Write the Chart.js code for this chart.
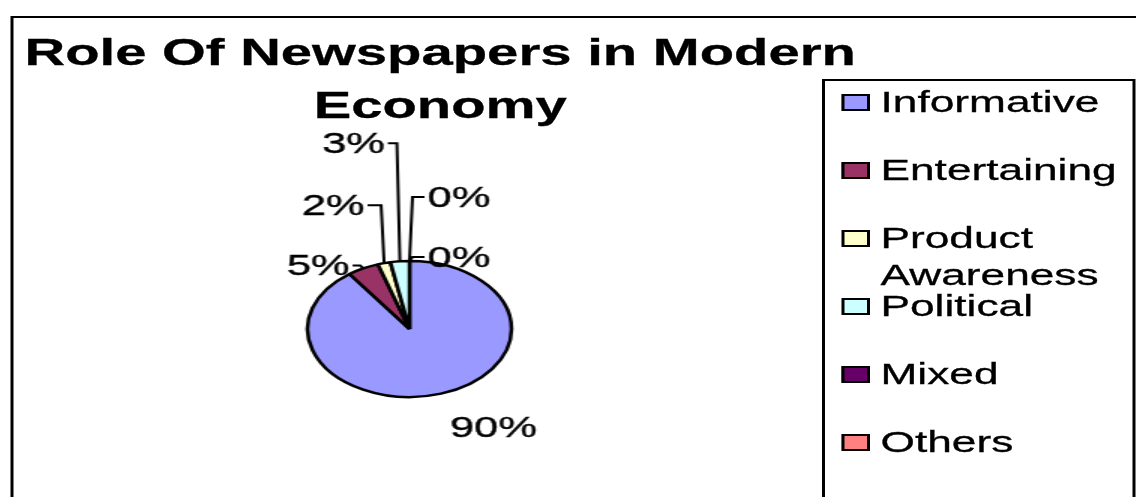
<!DOCTYPE html>
<html>
<head>
<meta charset="utf-8">
<title>Role Of Newspapers in Modern Economy</title>
<script src="https://cdn.jsdelivr.net/npm/chart.js@4.4.1/dist/chart.umd.min.js"></script>
<style>
    html, body { margin: 0; padding: 0; background: #fff; overflow: hidden; }
    #page { position: relative; width: 1136px; height: 497px; overflow: hidden; }
    /* the original picture is stretched 1.5x sideways, so draw narrow and stretch */
    #stretch {
        position: absolute; left: 0; top: 0; width: 758px; height: 497px;
        transform: scaleX(1.5); transform-origin: 0 0;
        font-family: "Liberation Sans", Arial, sans-serif; color: #000;
    }
    #frame {
        position: absolute; left: 6.7px; top: 16px; width: 800px; height: 600px;
        border: 2px solid #000; border-left-width: 2.6px;
    }
    #title {
        position: absolute; left: 0; top: 25.5px; width: 587px; margin: 0;
        text-align: center; font-weight: bold; font-size: 37.5px; line-height: 53px;
        -webkit-text-stroke: 0.3px #000;
    }
    #pie { position: absolute; left: 0; top: 0; }
    #legend {
        position: absolute; left: 547.8px; top: 79px; width: 209px; height: 600px;
        box-sizing: border-box; border: 2px solid #000; border-left-width: 2.6px; border-right-width: 2.6px;
    }
    .swatch { position: absolute; left: 561px; width: 19px; height: 17px; box-sizing: border-box; border: 2px solid #000; }
    .legend-text {
        position: absolute; left: 587px; width: 166px; font-size: 29.5px; line-height: 37px;
        -webkit-text-stroke: 0.3px #000;
    }
</style>
</head>
<body>
<div id="page">
    <div id="stretch">
        <div id="frame"></div>
        <div id="title">Role Of Newspapers in Modern Economy</div>
        <canvas id="pie" width="546" height="658"></canvas>
        <div id="legend"></div>
    </div>
</div>
<script>
const categories = ['Informative', 'Entertaining', 'Product Awareness', 'Political', 'Mixed', 'Others'];
const shares = [90, 5, 2, 3, 0, 0];
const sliceColors = ['#9999FF', '#993366', '#FFFFCC', '#CCFFFF', '#660066', '#FF8080'];

// where each percent label sits relative to the rim point of its slice
const labelPlacement = [
    { dx: 35, dy: 43, leader: false },
    { dx: -30, dy: 7, leader: true },
    { dx: -34, dy: -48, leader: true },
    { dx: -31, dy: -108, leader: true },
    { dx: 33, dy: -54, leader: true },
    { dx: 33, dy: 6, leader: true }
];

// legend rows, fixed pitch like the original
const legendTop = 112;
const legendPitch = 68;
const holder = document.getElementById('stretch');
categories.forEach((name, i) => {
    const baseline = legendTop + i * legendPitch;
    const sw = document.createElement('div');
    sw.className = 'swatch';
    sw.style.top = (baseline - 18) + 'px';
    sw.style.background = sliceColors[i];
    holder.appendChild(sw);
    const txt = document.createElement('div');
    txt.className = 'legend-text';
    txt.style.top = (baseline - 28.7) + 'px';
    txt.textContent = name;
    holder.appendChild(txt);
});

const pieLabels = {
    id: 'pieLabels',
    afterDatasetsDraw(chart) {
        const ctx = chart.ctx;
        const arcs = chart.getDatasetMeta(0).data;
        const total = shares.reduce((a, b) => a + b, 0);
        ctx.save();
        ctx.font = '29px "Liberation Sans", Arial, sans-serif';
        ctx.fillStyle = '#000';
        ctx.strokeStyle = '#000';
        ctx.textAlign = 'center';
        ctx.textBaseline = 'alphabetic';
        arcs.forEach((arc, i) => {
            const { x, y, startAngle, endAngle, outerRadius } =
                arc.getProps(['x', 'y', 'startAngle', 'endAngle', 'outerRadius'], true);
            const mid = (startAngle + endAngle) / 2;
            const ax = x + Math.cos(mid) * outerRadius;
            const ay = y + Math.sin(mid) * outerRadius;
            const p = labelPlacement[i];
            const tx = ax + p.dx;
            const ty = ay + p.dy;
            const text = Math.round(shares[i] / total * 100) + '%';
            ctx.lineWidth = 0.4;
            ctx.fillText(text, tx, ty);
            ctx.strokeText(text, tx, ty);
            if (p.leader) {
                const w = ctx.measureText(text).width;
                const side = p.dx < 0 ? 1 : -1; // leave from the side facing the pie
                const sx = tx + side * (w / 2 + 2);
                const my = ty - 10;
                ctx.lineWidth = 2;
                ctx.beginPath();
                ctx.moveTo(sx, my);
                ctx.lineTo(ax - side * 2, my);
                ctx.lineTo(ax, ay);
                ctx.stroke();
            }
        });
        ctx.restore();
    }
};

new Chart(document.getElementById('pie'), {
    type: 'pie',
    data: {
        labels: categories,
        datasets: [{
            data: shares,
            backgroundColor: sliceColors,
            borderColor: '#000',
            borderWidth: 2.5,
            radius: 68
        }]
    },
    options: {
        responsive: false,
        animation: false,
        events: [],
        layout: { padding: 0 },
        plugins: {
            legend: { display: false },
            tooltip: { enabled: false }
        }
    },
    plugins: [pieLabels]
});
</script>
</body>
</html>
